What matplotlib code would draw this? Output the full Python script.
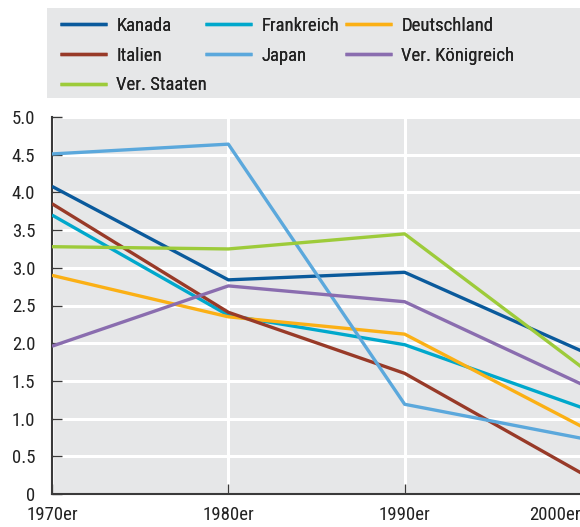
import matplotlib
matplotlib.use("Agg")
import matplotlib.pyplot as plt
from matplotlib.patches import Rectangle
from matplotlib.transforms import ScaledTranslation

plt.rcParams['font.family'] = ['Roboto Condensed', 'DejaVu Sans']

decades = ["1970er", "1980er", "1990er", "2000er"]
series_names = ["Kanada", "Frankreich", "Deutschland", "Italien", "Japan",
                "Ver. Königreich", "Ver. Staaten"]
kanada = [4.08, 2.84, 2.94, 1.90]
frankreich = [3.70, 2.37, 1.98, 1.15]
deutschland = [2.90, 2.35, 2.12, 0.90]
italien = [3.85, 2.41, 1.60, 0.28]
japan = [4.51, 4.64, 1.19, 0.74]
uk = [1.96, 2.76, 2.55, 1.46]
usa = [3.28, 3.25, 3.45, 1.69]
values = [kanada, frankreich, deutschland, italien, japan, uk, usa]
colors = ["#0a5a9c", "#00a8cc", "#fbb015", "#983a28", "#5ba8dc", "#8a6daf", "#9dcb3a"]
yticks = [0, 0.5, 1.0, 1.5, 2.0, 2.5, 3.0, 3.5, 4.0, 4.5, 5.0]
ytick_labels = ["0", "0.5", "1.0", "1.5", "2.0", "2.5", "3.0", "3.5", "4.0", "4.5", "5.0"]

W, H = 580, 527
FS = 13.5
TXT = "#222222"
fig = plt.figure(figsize=(W / 100, H / 100), dpi=100)
ax = fig.add_axes([52 / W, (H - 494) / H, (581 - 52) / W, (494 - 117) / H])
ax.set_facecolor("#e6e7e8")

x = list(range(len(decades)))
lines = []
for name, vals, c in zip(series_names, values, colors):
    ln, = ax.plot(x, vals, color=c, lw=2.4, label=name, solid_capstyle="butt", zorder=3)
    lines.append(ln)

ax.set_xlim(0, 3)
ax.set_ylim(0, 5)
ax.set_yticks(yticks)
ax.set_yticklabels(ytick_labels)
ax.set_xticks(x)
ax.set_xticklabels(decades)
ax.grid(True, color="white", lw=2.2)
ax.set_axisbelow(True)
for s in ["top", "right"]:
    ax.spines[s].set_visible(False)
for s in ["left", "bottom"]:
    ax.spines[s].set_color("#3a3a3a")
    ax.spines[s].set_linewidth(1.5)
ax.tick_params(axis="both", direction="in", length=7, width=1, color="#3a3a3a",
               labelsize=FS, labelcolor=TXT)
ax.tick_params(axis="y", pad=12)
ax.tick_params(axis="x", pad=9)
last = ax.get_xticklabels()[-1]
last.set_transform(last.get_transform() + ScaledTranslation(-26 / 100, 0, fig.dpi_scale_trans))

# legend background
fig.patches.append(Rectangle((47 / W, (H - 98) / H), (W - 47) / W, 90 / H,
                             transform=fig.transFigure, facecolor="#e6e7e8",
                             edgecolor="none", zorder=0))
columns = [[0, 3, 6], [1, 4], [2, 5]]
col_x = [60, 205, 345]
for idxs, cx in zip(columns, col_x):
    lg = fig.legend([lines[i] for i in idxs], [series_names[i] for i in idxs],
                    loc="upper left", bbox_to_anchor=(cx / W, (H - 17) / H),
                    frameon=False, fontsize=FS, handlelength=2.5, handletextpad=0.5,
                    labelspacing=0.62, borderpad=0, borderaxespad=0, labelcolor=TXT)
    fig.add_artist(lg)

fig.savefig("out.png", dpi=100)
